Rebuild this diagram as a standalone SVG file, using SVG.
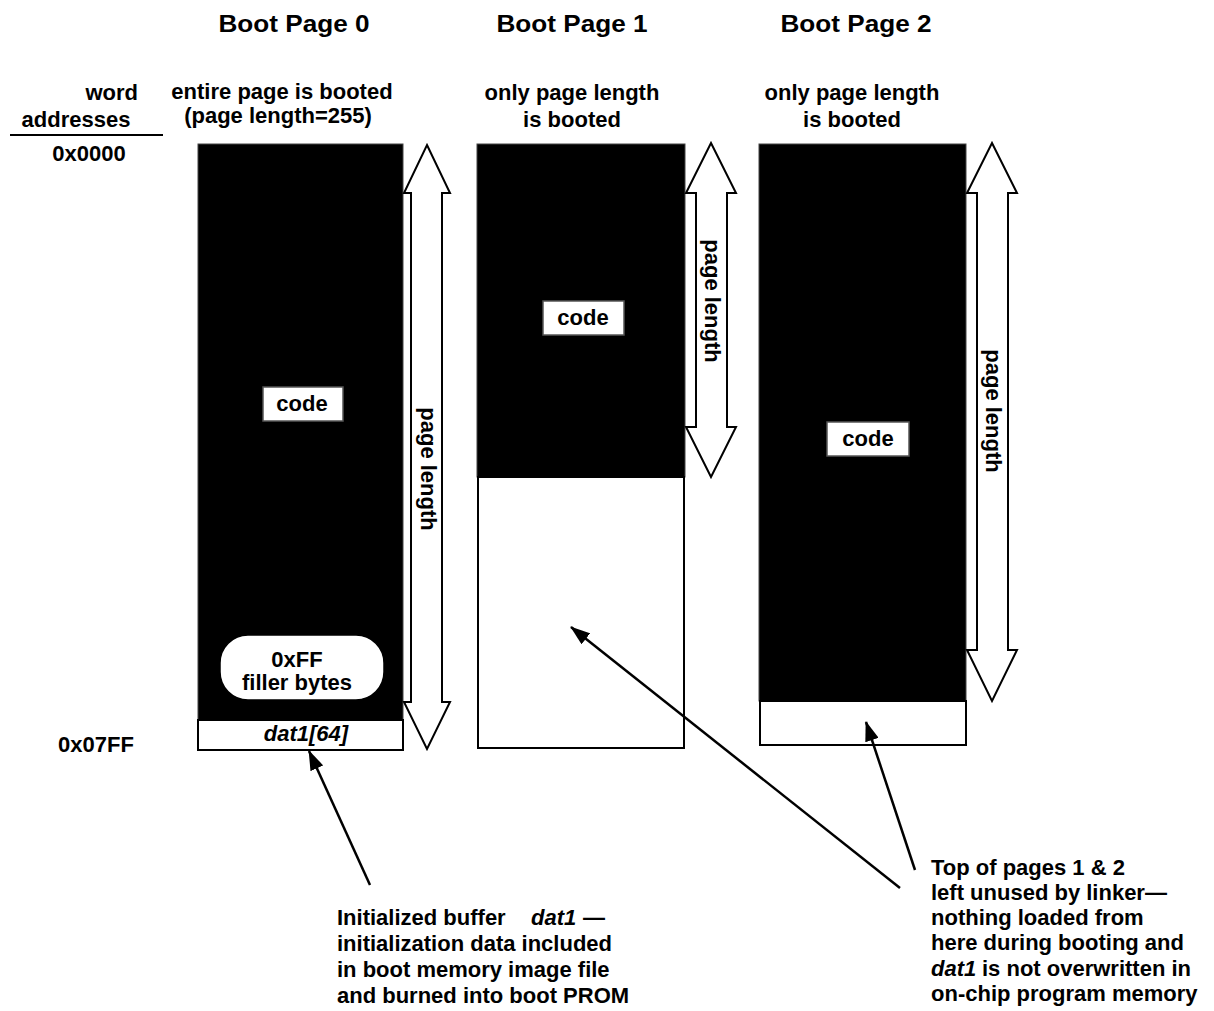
<svg xmlns="http://www.w3.org/2000/svg" width="1214" height="1011" viewBox="0 0 1214 1011">
  <defs>
    <style>
      text { font-family: "Liberation Sans", Arial, sans-serif; font-weight: bold; fill: #000; }
      .title { font-size: 24px; text-anchor: middle; }
      .lbl { font-size: 22px; }
      .mid { text-anchor: middle; }
      .end { text-anchor: end; }
      .it { font-style: italic; }
      .code { fill: #fff; stroke: #555; stroke-width: 1.5; }
      .blk { fill: #000; stroke: #444; stroke-width: 1; }
      .empty { fill: #fff; stroke: #000; stroke-width: 2; }
      .span { fill: #fff; stroke: #000; stroke-width: 2; stroke-linejoin: miter; }
      .ptr { stroke: #000; stroke-width: 2.5; fill: none; }
    </style>
    <marker id="head" viewBox="0 0 20 14" refX="19" refY="7" markerWidth="20" markerHeight="14" markerUnits="userSpaceOnUse" orient="auto">
      <path d="M0,0 L20,7 L0,14 Z" fill="#000"/>
    </marker>
  </defs>

  <!-- column headings -->
  <text class="title" x="294" y="32" textLength="151" lengthAdjust="spacingAndGlyphs">Boot Page 0</text>
  <text class="title" x="572" y="32" textLength="151" lengthAdjust="spacingAndGlyphs">Boot Page 1</text>
  <text class="title" x="856" y="32" textLength="151" lengthAdjust="spacingAndGlyphs">Boot Page 2</text>

  <!-- address axis -->
  <g id="addresses">
    <text class="lbl end" x="138" y="100">word</text>
    <text class="lbl mid" x="76" y="127">addresses</text>
    <line x1="10" y1="135" x2="163" y2="135" stroke="#000" stroke-width="2"/>
    <text class="lbl mid" x="89" y="161">0x0000</text>
    <text class="lbl mid" x="96" y="752">0x07FF</text>
  </g>

  <!-- page 0 -->
  <g id="page0">
    <text class="lbl mid" x="282" y="99">entire page is booted</text>
    <text class="lbl mid" x="278" y="123">(page length=255)</text>
    <rect class="blk" x="198" y="144" width="205" height="576"/>
    <rect class="code" x="263" y="387" width="80" height="34"/>
    <text class="lbl mid" x="302" y="411">code</text>
    <rect x="220" y="635" width="164" height="65" rx="28" ry="28" fill="#fff" stroke="#000" stroke-width="1.5"/>
    <text class="lbl mid" x="297" y="667">0xFF</text>
    <text class="lbl mid" x="297" y="690">filler bytes</text>
    <rect class="empty" x="198" y="720" width="205" height="30"/>
    <text class="lbl mid it" x="306" y="741">dat1[64]</text>
  </g>

  <!-- page 1 -->
  <g id="page1">
    <text class="lbl mid" x="572" y="100">only page length</text>
    <text class="lbl mid" x="572" y="127">is booted</text>
    <rect class="blk" x="477" y="144" width="208" height="333"/>
    <rect class="code" x="543" y="301" width="81" height="34"/>
    <text class="lbl mid" x="583" y="325">code</text>
    <rect class="empty" x="478" y="477" width="206" height="271"/>
  </g>

  <!-- page 2 -->
  <g id="page2">
    <text class="lbl mid" x="852" y="100">only page length</text>
    <text class="lbl mid" x="852" y="127">is booted</text>
    <rect class="blk" x="759" y="144" width="207" height="557"/>
    <rect class="code" x="827" y="422" width="82" height="34"/>
    <text class="lbl mid" x="868" y="446">code</text>
    <rect class="empty" x="760" y="701" width="206" height="44"/>
  </g>

  <!-- page-length spans (hollow double arrows) -->
  <g id="span0">
    <path class="span" d="M427,145 L450,193 L442,193 L442,702 L450,702 L427,749 L404,702 L411,702 L411,193 L404,193 Z"/>
    <text class="lbl mid" transform="translate(421,469) rotate(90)">page length</text>
  </g>
  <g id="span1">
    <path class="span" d="M711,143 L736,193 L727,193 L727,427 L736,427 L711,477 L686,427 L696,427 L696,193 L686,193 Z"/>
    <text class="lbl mid" transform="translate(705,301) rotate(90)">page length</text>
  </g>
  <g id="span2">
    <path class="span" d="M992,143 L1017,193 L1008,193 L1008,650 L1017,650 L992,701 L967,650 L977,650 L977,193 L967,193 Z"/>
    <text class="lbl mid" transform="translate(986,411) rotate(90)">page length</text>
  </g>

  <!-- callout pointers -->
  <g id="connectors">
    <line class="ptr" x1="370" y1="885" x2="309" y2="751" marker-end="url(#head)"/>
    <line class="ptr" x1="900" y1="888" x2="571" y2="627" marker-end="url(#head)"/>
    <line class="ptr" x1="915" y1="870" x2="866" y2="722" marker-end="url(#head)"/>
  </g>

  <!-- notes -->
  <g id="note-left">
    <text class="lbl" x="337" y="925">Initialized buffer<tspan class="it" x="531">dat1</tspan><tspan x="583">—</tspan></text>
    <text class="lbl" x="337" y="951">initialization data included</text>
    <text class="lbl" x="337" y="977">in boot memory image file</text>
    <text class="lbl" x="337" y="1003">and burned into boot PROM</text>
  </g>
  <g id="note-right">
    <text class="lbl" x="931" y="875">Top of pages 1 &amp; 2</text>
    <text class="lbl" x="931" y="900">left unused by linker—</text>
    <text class="lbl" x="931" y="925">nothing loaded from</text>
    <text class="lbl" x="931" y="950">here during booting and</text>
    <text class="lbl" x="931" y="976"><tspan class="it">dat1</tspan><tspan x="982">is not overwritten in</tspan></text>
    <text class="lbl" x="931" y="1001">on-chip program memory</text>
  </g>
</svg>
